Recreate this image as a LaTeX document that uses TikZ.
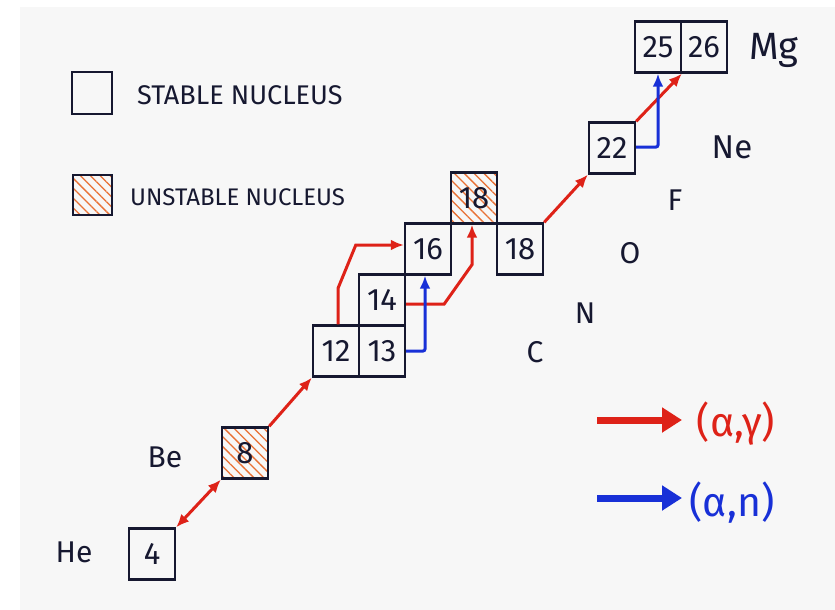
\documentclass[tikz,border=0pt]{standalone}
\usepackage{fontspec}
\setmainfont{Fira Sans}
\usetikzlibrary{arrows.meta,patterns.meta,calc}

\definecolor{paper}{RGB}{247,247,247}
\definecolor{ink}{RGB}{22,24,48}
\definecolor{rxred}{RGB}{222,34,24}
\definecolor{rxblue}{RGB}{24,48,215}
\definecolor{hatch}{RGB}{232,112,52}

\tikzset{
  nucleus/.style={draw=ink, line width=2.4pt, minimum width=46pt, minimum height=51pt,
    inner sep=0pt, text=ink, font=\fontsize{31}{33}\selectfont},
  unstable/.style={nucleus, pattern={Lines[angle=-45,distance=7pt,line width=1.3pt]},
    pattern color=hatch},
  element/.style={text=ink, font=\fontsize{30}{32}\selectfont, inner sep=0pt},
  legendtext/.style={text=ink, font=\fontsize{27}{29}\selectfont, inner sep=0pt, anchor=west},
  agamma/.style={draw=rxred, line width=3pt, -{Latex[length=13pt,width=11pt]}},
  aneutron/.style={draw=rxblue, line width=3pt, -{Latex[length=13pt,width=11pt]}},
  keyarrow/.style={line width=7pt, -{Triangle[length=20pt,width=24pt]}},
}

\begin{document}
\begin{tikzpicture}[x=1pt,y=-1pt]
  % page and paper sheet
  \useasboundingbox (0,0) rectangle (835,610);
  \fill[white] (0,0) rectangle (835,610);
  \fill[paper] (20,7) rectangle (835,610);

  % legend: nucleus kinds
  \node[nucleus, minimum width=40pt, minimum height=42pt] (keystable) at (92,93) {};
  \node[legendtext] (keystabletext) at (137,95) {STABLE NUCLEUS};
  \node[unstable, minimum width=39pt, minimum height=40pt] (keyunstable) at (92.5,195) {};
  \node[legendtext, font=\fontsize{24}{26}\selectfont] (keyunstabletext) at (130,197) {UNSTABLE NUCLEUS};

  % nuclei
  \node[nucleus]  (n4)   at (152,554) {4};
  \node[unstable] (n8)   at (245,453) {8};
  \node[nucleus]  (n12)  at (336,351) {12};
  \node[nucleus]  (n13)  at (382,351) {13};
  \node[nucleus]  (n14)  at (382,300) {14};
  \node[nucleus]  (n16)  at (428,249) {16};
  \node[unstable] (n18u) at (474,198) {18};
  \node[nucleus]  (n18)  at (520,249) {18};
  \node[nucleus]  (n22)  at (612,148) {22};
  \node[nucleus]  (n25)  at (658,47)  {25};
  \node[nucleus]  (n26)  at (704,47)  {26};

  % element symbols
  \node[element] (he) at (74,552) {He};
  \node[element] (be) at (165,457) {Be};
  \node[element] (c)  at (535,352) {C};
  \node[element] (n)  at (585,313) {N};
  \node[element] (o)  at (630,253) {O};
  \node[element] (f)  at (675,200) {F};
  \node[element, font=\fontsize{33}{35}\selectfont] (ne) at (732,147) {Ne};
  \node[element, font=\fontsize{38}{40}\selectfont] (mg) at (774,50) {Mg};

  % (alpha,gamma) captures
  \draw[agamma, {Latex[length=13pt,width=11pt]}-{Latex[length=13pt,width=11pt]}]
    (n4.north east) -- (n8.south west);
  \draw[agamma] (n8.north east) -- (n12.south west);
  \draw[agamma] ($(n12.north)+(2,0)$) -- ++(0,-36) -- ($(n16.west)+(-48,-4)$) -- ($(n16.west)+(0,-4)$);
  \draw[agamma] ($(n14.east)+(0,4)$) -- ++(38,0) -- ($(n18u.south)+(-2,40)$) -- ($(n18u.south)+(-2,0)$);
  \draw[agamma] (n18.north east) -- (n22.south west);
  \draw[agamma] (n22.north east) -- ($(n26.south west)+(2,0)$);

  % (alpha,n) reactions
  \draw[aneutron, rounded corners=2pt] (n13.east) -| ($(n16.south)+(-3,0)$);
  \draw[aneutron, rounded corners=2pt] ($(n22.east)+(0,-1)$) -| (n25.south);

  % legend: reaction kinds
  \coordinate (kg0) at (597,420);
  \coordinate (kg1) at (682,420);
  \coordinate (kn0) at (597,498);
  \coordinate (kn1) at (682,498);
  \draw[keyarrow, draw=rxred, fill=rxred] (kg0) -- (kg1);
  \draw[keyarrow, draw=rxblue, fill=rxblue] (kn0) -- (kn1);
  \node[text=rxred, font=\fontsize{41}{43}\selectfont, inner sep=0pt] (lg) at (736,424) {(α,γ)};
  \node[text=rxblue, font=\fontsize{41}{43}\selectfont, inner sep=0pt] (ln) at (732,503) {(α,n)};
\end{tikzpicture}
\end{document}
